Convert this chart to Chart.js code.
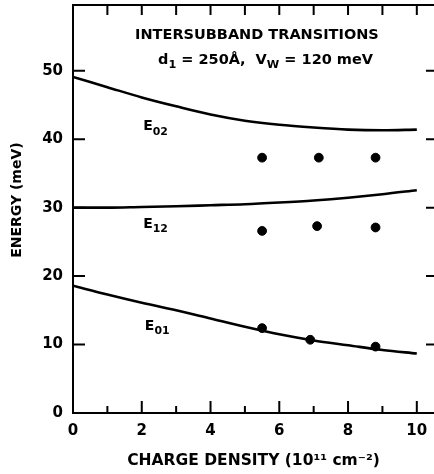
<!DOCTYPE html>
<html>
<head>
<meta charset="utf-8">
<script src="https://cdn.jsdelivr.net/npm/chart.js@4.4.0/dist/chart.umd.min.js"></script>
<style>
html, body { margin: 0; padding: 0; background: #fff; }
</style>
</head>
<body>
<canvas id="chart" width="434" height="474"></canvas>
<script>
// charge density (10^11 cm^-2) for the calculated curves
var density = [0, 1, 2, 3, 4, 5, 6, 7, 8, 9, 10];
var e02 = [49.1, 47.6, 46.1, 44.8, 43.6, 42.7, 42.1, 41.7, 41.4, 41.3, 41.4];
var e12 = [30.0, 30.0, 30.1, 30.2, 30.35, 30.5, 30.75, 31.05, 31.45, 31.95, 32.55];
var e01 = [18.6, 17.3, 16.1, 15.0, 13.8, 12.6, 11.5, 10.6, 9.9, 9.2, 8.7];

// measured transitions
var dens02 = [5.5, 7.15, 8.8];
var meas02 = [37.3, 37.3, 37.3];
var dens12 = [5.5, 7.1, 8.8];
var meas12 = [26.6, 27.3, 27.1];
var dens01 = [5.5, 6.9, 8.8];
var meas01 = [12.4, 10.7, 9.7];

var xTicks = [0, 2, 4, 6, 8, 10];
var yTicks = [0, 10, 20, 30, 40, 50];

var FONT = "'DejaVu Sans'";

function pts(xs, ys) {
    return xs.map(function (x, i) { return { x: x, y: ys[i] }; });
}

function curve(xs, ys) {
    return {
        data: pts(xs, ys),
        showLine: true,
        borderColor: '#000',
        borderWidth: 2.6,
        pointRadius: 0,
        tension: 0.4,
        cubicInterpolationMode: 'monotone'
    };
}

function dots(xs, ys) {
    return {
        data: pts(xs, ys),
        showLine: false,
        backgroundColor: '#000',
        borderColor: '#000',
        pointRadius: 4.4
    };
}

function noPad(s) {
    s.paddingTop = 0;
    s.paddingBottom = 0;
    s.paddingLeft = 0;
    s.paddingRight = 0;
}

// draws text pieces, some lowered as subscripts
function drawRich(ctx, parts, cx, cy, size) {
    var total = 0;
    parts.forEach(function (p) {
        ctx.font = 'bold ' + (p.sub ? size * 0.78 : size) + 'px ' + FONT;
        p.w = ctx.measureText(p.t).width;
        total += p.w;
    });
    var x = cx - total / 2;
    parts.forEach(function (p) {
        ctx.font = 'bold ' + (p.sub ? size * 0.78 : size) + 'px ' + FONT;
        ctx.fillText(p.t, x, cy + (p.sub ? size * 0.35 : 0));
        x += p.w;
    });
}

var frame = {
    id: 'frame',
    afterDraw: function (chart) {
        var ctx = chart.ctx;
        var a = chart.chartArea;
        var xs = chart.scales.x, ys = chart.scales.y;
        ctx.save();
        ctx.strokeStyle = '#000';
        ctx.lineWidth = 2;
        // top border
        ctx.beginPath();
        ctx.moveTo(a.left, a.top);
        ctx.lineTo(a.right, a.top);
        ctx.stroke();
        // inward ticks on x
        for (var i = 1; i <= 10; i++) {
            var px = xs.getPixelForValue(i);
            ctx.beginPath();
            ctx.moveTo(px, a.bottom);
            ctx.lineTo(px, a.bottom - (i % 2 ? 7 : 12));
            ctx.moveTo(px, a.top);
            ctx.lineTo(px, a.top + 10);
            ctx.stroke();
        }
        // inward ticks on y
        for (var v = 10; v <= 50; v += 10) {
            var py = ys.getPixelForValue(v);
            ctx.beginPath();
            ctx.moveTo(a.left, py);
            ctx.lineTo(a.left + 12, py);
            ctx.moveTo(a.right, py);
            ctx.lineTo(a.right - 8, py);
            ctx.stroke();
        }

        ctx.fillStyle = '#000';
        ctx.textBaseline = 'middle';
        ctx.textAlign = 'left';
        drawRich(ctx, [{ t: 'INTERSUBBAND TRANSITIONS' }], xs.getPixelForValue(5.35), ys.getPixelForValue(55.2), 14.5);
        drawRich(ctx, [{ t: 'd' }, { t: '1', sub: true }, { t: ' = 250Å,  V' }, { t: 'W', sub: true }, { t: ' = 120 meV' }],
            xs.getPixelForValue(5.6), ys.getPixelForValue(51.6), 14.5);
        drawRich(ctx, [{ t: 'E' }, { t: '02', sub: true }], xs.getPixelForValue(2.4), ys.getPixelForValue(41.8), 14);
        drawRich(ctx, [{ t: 'E' }, { t: '12', sub: true }], xs.getPixelForValue(2.4), ys.getPixelForValue(27.5), 14);
        drawRich(ctx, [{ t: 'E' }, { t: '01', sub: true }], xs.getPixelForValue(2.45), ys.getPixelForValue(12.6), 14);

        // y axis title
        ctx.translate(17, ys.getPixelForValue(31.1));
        ctx.rotate(-Math.PI / 2);
        ctx.textAlign = 'center';
        ctx.font = 'bold 14px ' + FONT;
        ctx.fillText('ENERGY (meV)', 0, 0);
        ctx.restore();
    }
};

new Chart(document.getElementById('chart'), {
    type: 'scatter',
    data: {
        datasets: [
            curve(density, e02),
            curve(density, e12),
            curve(density, e01),
            dots(dens02, meas02),
            dots(dens12, meas12),
            dots(dens01, meas01)
        ]
    },
    options: {
        responsive: false,
        animation: false,
        layout: { autoPadding: false, padding: { top: 5, right: 0, left: 0, bottom: 0 } },
        plugins: {
            legend: { display: false },
            tooltip: { enabled: false }
        },
        scales: {
            x: {
                type: 'linear',
                min: 0,
                max: 10.5,
                afterBuildTicks: function (s) { s.ticks = xTicks.map(function (v) { return { value: v }; }); },
                afterFit: function (s) { s.height = 61; noPad(s); },
                grid: { display: false, drawTicks: false },
                border: { display: true, color: '#000', width: 2 },
                ticks: { color: '#000', padding: 9, maxRotation: 0, font: { family: FONT, size: 15, weight: 'bold' } },
                title: {
                    display: true,
                    text: 'CHARGE DENSITY (10¹¹ cm⁻²)',
                    color: '#000',
                    padding: { top: 0, bottom: 4 },
                    font: { family: FONT, size: 15.5, weight: 'bold' }
                }
            },
            y: {
                min: 0,
                max: 59.6,
                afterBuildTicks: function (s) { s.ticks = yTicks.map(function (v) { return { value: v }; }); },
                afterFit: function (s) { s.width = 73; noPad(s); },
                grid: { display: false, drawTicks: false },
                border: { display: true, color: '#000', width: 2 },
                ticks: { color: '#000', padding: 10, font: { family: FONT, size: 15, weight: 'bold' } }
            }
        }
    },
    plugins: [frame]
});
</script>
</body>
</html>
